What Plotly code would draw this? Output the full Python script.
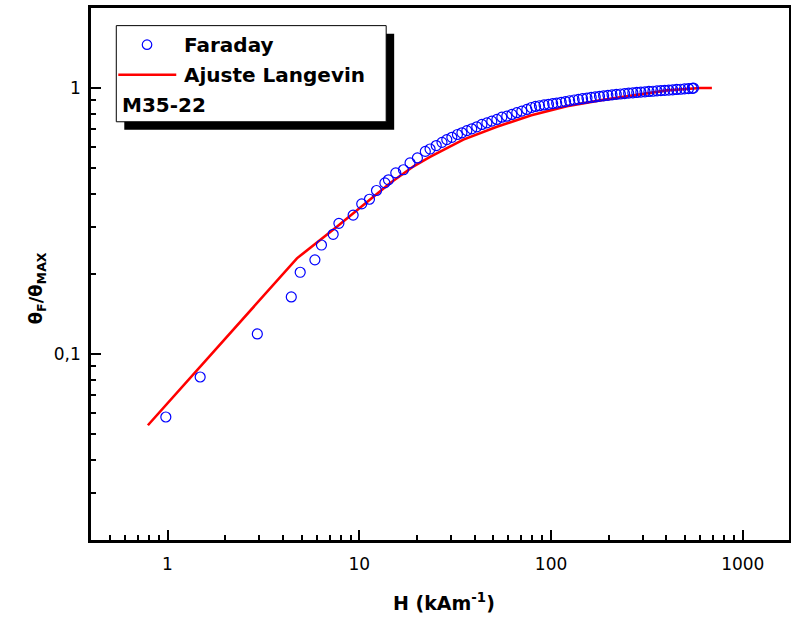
import plotly.graph_objects as go

# ---- data ----
H_faraday = [0.98, 1.48, 2.94, 4.42, 4.92, 5.87, 6.35, 7.31, 7.83, 9.29,
             10.3, 11.3, 12.3, 13.6, 14.2, 15.5, 17.0, 18.4, 20.1, 22.1,
             23.4, 25.2, 27.0, 28.6, 30.4, 32.5, 34.3, 36.4, 38.6, 41.0,
             43.6, 46.3, 49.1, 52.2, 55.4, 58.8, 62.5, 66.3, 70.4, 74.8,
             79, 83, 87, 92, 97, 102, 107, 113, 119, 125,
             132, 139, 146, 154, 162, 170, 179, 188, 198, 208,
             219, 230, 242, 254, 267, 280, 294, 309, 324, 340,
             357, 374, 392, 411, 431, 452, 474, 497, 521, 545, 553]
theta_faraday = [0.058, 0.082, 0.119, 0.164, 0.203, 0.226, 0.257, 0.282, 0.310, 0.333,
                 0.367, 0.382, 0.412, 0.440, 0.452, 0.480, 0.493, 0.523, 0.546, 0.578,
                 0.590, 0.608, 0.625, 0.640, 0.653, 0.669, 0.679, 0.692, 0.703, 0.715,
                 0.730, 0.740, 0.751, 0.762, 0.777, 0.784, 0.796, 0.808, 0.819, 0.831,
                 0.845, 0.853, 0.858, 0.864, 0.869, 0.874, 0.878, 0.884, 0.890, 0.896,
                 0.902, 0.907, 0.912, 0.917, 0.922, 0.926, 0.931, 0.935, 0.939, 0.943,
                 0.947, 0.950, 0.953, 0.957, 0.960, 0.963, 0.966, 0.968, 0.971, 0.973,
                 0.976, 0.978, 0.981, 0.983, 0.985, 0.988, 0.990, 0.993, 0.996, 0.998, 1.0]

H_fit = [0.79, 4.73, 7.64, 10.5, 14.5, 19.2, 23.4, 34.9, 52.2, 79,
         121, 180, 269, 402, 600, 690]
theta_fit = [0.054, 0.229, 0.301, 0.364, 0.440, 0.508, 0.551, 0.640, 0.715, 0.790,
             0.855, 0.899, 0.941, 0.980, 1.0, 1.0]

x_range_log = [-0.399, 3.241]
y_range_log = [-1.699, 0.301]

FONT = "DejaVu Sans"
W, Hh = 791, 619
L, R, T, B = 90.7, 789.0, 8.4, 539.6


def px(x):
    return (x - L) / (R - L)


def py(y):
    return (B - y) / (B - T)


fig = go.Figure()
fig.add_trace(go.Scatter(
    x=H_fit, y=theta_fit, mode="lines", name="Ajuste Langevin",
    line=dict(color="#ff0000", width=2.6), showlegend=False))
fig.add_trace(go.Scatter(
    x=H_faraday, y=theta_faraday, mode="markers", name="Faraday",
    marker=dict(symbol="circle-open", size=10, color="#0000ff",
                line=dict(width=1.2, color="#0000ff")),
    showlegend=False))

axis_common = dict(
    type="log", showline=True, linecolor="black", linewidth=2.5, mirror=True,
    ticks="inside", ticklen=10, tickwidth=2, tickcolor="black",
    showgrid=False, zeroline=False, dtick=1,
    tickfont=dict(family=FONT, size=17, color="black"),
    minor=dict(ticks="inside", ticklen=5, tickwidth=1.5, tickcolor="black",
               dtick="D1", showgrid=False),
)

fig.update_xaxes(range=x_range_log, ticklabelstandoff=7, **axis_common)
fig.update_yaxes(range=y_range_log, ticklabelstandoff=4, **axis_common)

# legend box with shadow
shapes = [
    dict(type="rect", xref="paper", yref="paper",
         x0=px(124), x1=px(394), y0=py(130), y1=py(34),
         fillcolor="black", line=dict(width=0), layer="above"),
    dict(type="rect", xref="paper", yref="paper",
         x0=px(116), x1=px(386), y0=py(122), y1=py(26),
         fillcolor="white", line=dict(width=1, color="black"), layer="above"),
    dict(type="line", xref="paper", yref="paper",
         x0=px(118), x1=px(176), y0=py(75), y1=py(75),
         line=dict(color="#ff0000", width=2.6), layer="above"),
    dict(type="circle", xref="paper", yref="paper",
         x0=px(142), x1=px(151.5), y0=py(49.7), y1=py(40.3),
         line=dict(color="#0000ff", width=1.2), layer="above"),
]

annotations = [
    dict(text="<b>Faraday</b>", x=px(182), y=py(45), xref="paper", yref="paper",
         xanchor="left", yanchor="middle", showarrow=False,
         font=dict(family=FONT, size=20, color="black")),
    dict(text="<b>Ajuste Langevin</b>", x=px(182), y=py(75), xref="paper", yref="paper",
         xanchor="left", yanchor="middle", showarrow=False,
         font=dict(family=FONT, size=20, color="black")),
    dict(text="<b>M35-22</b>", x=px(120), y=py(105), xref="paper", yref="paper",
         xanchor="left", yanchor="middle", showarrow=False,
         font=dict(family=FONT, size=20, color="black")),
    dict(text="<b>H (kAm<sup>-1</sup>)</b>", x=px(444), y=py(602), xref="paper", yref="paper",
         xanchor="center", yanchor="middle", showarrow=False,
         font=dict(family=FONT, size=19, color="black")),
    dict(text="<b>θ<sub>F</sub>/θ<sub>MAX</sub></b>", x=px(37), y=py(288),
         xref="paper", yref="paper", textangle=-90,
         xanchor="center", yanchor="middle", showarrow=False,
         font=dict(family=FONT, size=18, color="black")),
]

fig.update_layout(
    width=W, height=Hh,
    margin=dict(l=L, r=W - R, t=T, b=Hh - B, autoexpand=False),
    paper_bgcolor="white", plot_bgcolor="white",
    separators=",.",
    shapes=shapes, annotations=annotations,
    showlegend=False,
)

fig.write_html("out.html",
               config={"displayModeBar": False},
               post_script="document.body.style.margin='0px';document.body.style.padding='0px';")
